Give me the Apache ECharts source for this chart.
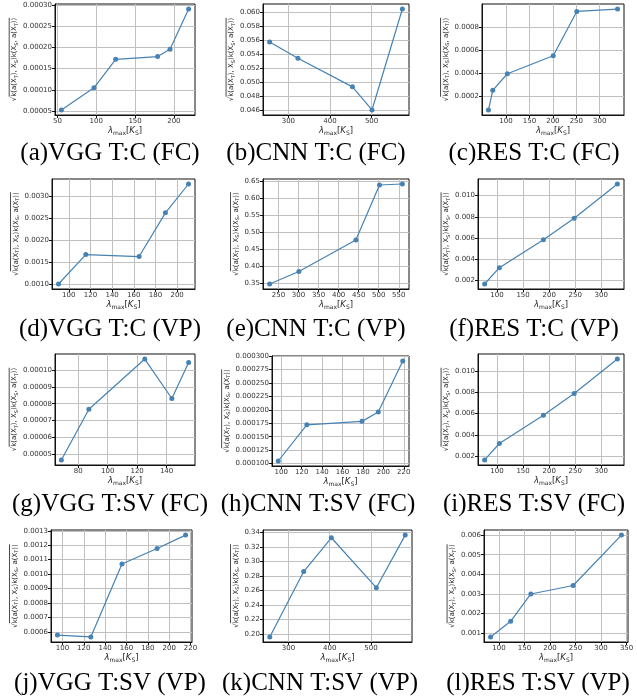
<!DOCTYPE html>
<html><head><meta charset="utf-8">
<script src="https://cdn.jsdelivr.net/npm/echarts@6/dist/echarts.min.js"></script>
<style>html,body{margin:0;padding:0;background:#fff}#c{width:637px;height:700px}</style>
</head><body><div id="c"></div>
<script>
// ---- data ----
const aX = [55, 97, 125, 179, 195, 219];
const aY = [0.0000524, 0.0001048, 0.0001722, 0.0001786, 0.000196, 0.000291];
const aXT = [50, 100, 150, 200];
const aYT = [0.00005, 0.00010, 0.00015, 0.00020, 0.00025, 0.00030];

const bX = [255, 323, 454, 501, 574];
const bY = [0.05576, 0.05343, 0.04938, 0.0461, 0.06043];
const bXT = [300, 400, 500];
const bYT = [0.046, 0.048, 0.050, 0.052, 0.054, 0.056, 0.058, 0.060];

const cX = [62.5, 71.7, 102.8, 200.7, 251, 338];
const cY = [0.0000794, 0.00025, 0.000394, 0.00055, 0.000935, 0.000956];
const cXT = [100, 150, 200, 250, 300];
const cYT = [0.0002, 0.0004, 0.0006, 0.0008, 0.0010];

const dX = [90.5, 115.7, 164.9, 189.2, 210.5];
const dY = [0.001015, 0.001679, 0.001634, 0.002619, 0.003269];
const dXT = [100, 120, 140, 160, 180, 200];
const dYT = [0.0010, 0.0015, 0.0020, 0.0025, 0.0030];

const eX = [228, 301, 443, 502, 559];
const eY = [0.347, 0.384, 0.477, 0.640, 0.643];
const eXT = [250, 300, 350, 400, 450, 500, 550];
const eYT = [0.35, 0.40, 0.45, 0.50, 0.55, 0.60, 0.65];

const fX = [76.3, 104.5, 189, 248, 330.8];
const fY = [0.00165, 0.00319, 0.00584, 0.00787, 0.0111];
const fXT = [100, 150, 200, 250, 300];
const fYT = [0.002, 0.004, 0.006, 0.008, 0.010];

const gX = [68.5, 87.2, 125.2, 143.6, 155];
const gY = [0.0000466, 0.0000767, 0.0001065, 0.0000831, 0.0001045];
const gXT = [80, 100, 120, 140];
const gYT = [0.00005, 0.00006, 0.00007, 0.00008, 0.00009, 0.00010];

const hX = [97, 125, 179, 195, 219];
const hY = [0.0001048, 0.0001722, 0.0001786, 0.000196, 0.000291];
const hXT = [100, 120, 140, 160, 180, 200, 220];
const hYT = [0.000100, 0.000125, 0.000150, 0.000175, 0.000200, 0.000225, 0.000250, 0.000275, 0.000300];

const iX = [76.3, 104.5, 189, 248, 330.8];
const iY = [0.00165, 0.00319, 0.00584, 0.00787, 0.0111];
const iXT = [100, 150, 200, 250, 300];
const iYT = [0.002, 0.004, 0.006, 0.008, 0.010];

const jX = [95.3, 126.6, 155.8, 188.7, 215.4];
const jY = [0.000578, 0.000565, 0.00107, 0.001177, 0.00127];
const jXT = [100, 120, 140, 160, 180, 200, 220];
const jYT = [0.0006, 0.0007, 0.0008, 0.0009, 0.0010, 0.0011, 0.0012, 0.0013];

const kX = [254.8, 337, 404, 513, 583];
const kY = [0.1958, 0.286, 0.3326, 0.2637, 0.3363];
const kXT = [300, 400, 500];
const kYT = [0.20, 0.22, 0.24, 0.26, 0.28, 0.30, 0.32, 0.34];

const lX = [83.6, 123, 162.5, 245.4, 340];
const lY = [0.000812, 0.001606, 0.003, 0.00343, 0.006];
const lXT = [100, 150, 200, 250, 300, 350];
const lYT = [0.001, 0.002, 0.003, 0.004, 0.005, 0.006];

const captions = ['(a)VGG T:C (FC)', '(b)CNN T:C (FC)', '(c)RES T:C (FC)',
  '(d)VGG T:C (VP)', '(e)CNN T:C (VP)', '(f)RES T:C (VP)',
  '(g)VGG T:SV (FC)', '(h)CNN T:SV (FC)', '(i)RES T:SV (FC)',
  '(j)VGG T:SV (VP)', '(k)CNN T:SV (VP)', '(l)RES T:SV (VP)'];

// ---- layout ----
const panels = [
  {x: aX, y: aY, xt: aXT, yt: aYT, yd: 5, box: [55, 4, 140, 111], ng: 32},
  {x: bX, y: bY, xt: bXT, yt: bYT, yd: 3, box: [263, 4, 146, 111], ng: 24},
  {x: cX, y: cY, xt: cXT, yt: cYT, yd: 4, box: [482, 4, 142, 111], ng: 28},
  {x: dX, y: dY, xt: dXT, yt: dYT, yd: 4, box: [52, 179, 143, 110], ng: 28},
  {x: eX, y: eY, xt: eXT, yt: eYT, yd: 2, box: [263, 179, 146, 110], ng: 22},
  {x: fX, y: fY, xt: fXT, yt: fYT, yd: 3, box: [478, 179, 146, 110], ng: 24},
  {x: gX, y: gY, xt: gXT, yt: gYT, yd: 5, box: [55, 354, 140, 111], ng: 32},
  {x: hX, y: hY, xt: hXT, yt: hYT, yd: 6, box: [272, 356, 137, 110], ng: 34},
  {x: iX, y: iY, xt: iXT, yt: iYT, yd: 3, box: [478, 354, 146, 111], ng: 24},
  {x: jX, y: jY, xt: jXT, yt: jYT, yd: 4, box: [51, 530, 141, 112], ng: 28},
  {x: kX, y: kY, xt: kXT, yt: kYT, yd: 2, box: [263, 530, 149, 112], ng: 22},
  {x: lX, y: lY, xt: lXT, yt: lYT, yd: 3, box: [484, 530, 144, 112], ng: 24}
];
const capPos = [[110, 141], [316, 141], [534, 141], [110, 317], [316, 317], [534, 317],
  [110, 492], [318, 492], [534, 492], [110, 671], [320, 671], [538, 671]];

function pad(a) {
  const mn = Math.min(...a), mx = Math.max(...a), r = mx - mn;
  return [mn - 0.05 * r, mx + 0.05 * r];
}
const FONT = 'DejaVu Sans';
// y-axis name: sqrt with overbar
const nameParts = [['n', 'k(a(X'], ['s', 'T'], ['n', '), X'], ['s', 'S'], ['n', ')k(X'], ['s', 'S'], ['n', ', a(X'], ['s', 'T'], ['n', '))']];
const NS = 7, SS = 5;
const mctx = document.createElement('canvas').getContext('2d');
function tw(str, size) { mctx.font = size + 'px "' + FONT + '"'; return mctx.measureText(str).width; }
const barW = nameParts.reduce((s, [t, str]) => s + tw(str, t === 'n' ? NS : SS), 0);
const rootW = tw('√', NS);
const yName = '{sp|}{bar|}\n{n|√}' + nameParts.map(([t, s]) => '{' + t + '|' + s + '}').join('');
const xName = '{i|λ}{s|max}{n|[}{i|K}{s|S}{n|]}';
const yRich = {
  sp: {width: rootW, height: 1, lineHeight: 2},
  bar: {width: barW, height: 0.8, backgroundColor: '#222', lineHeight: 2},
  n: {fontSize: NS, fontFamily: FONT, color: '#222', lineHeight: 9},
  s: {fontSize: SS, fontFamily: FONT, color: '#222', lineHeight: 9, verticalAlign: 'bottom', padding: [4, 0, 0, 0]}
};
const xRich = {
  n: {fontSize: 8.5, fontFamily: FONT, color: '#222', lineHeight: 12},
  i: {fontSize: 8.5, fontFamily: FONT, color: '#222', fontStyle: 'italic', lineHeight: 12},
  s: {fontSize: 6, fontFamily: FONT, color: '#222', lineHeight: 12, verticalAlign: 'bottom', padding: [5, 0, 0, 0]}
};

const grid = [], xAxis = [], yAxis = [], series = [], graphic = [];
panels.forEach((p, k) => {
  const [l, t, w, h] = p.box;
  grid.push({left: l, top: t, width: w, height: h, show: true, borderColor: '#111', borderWidth: 1, containLabel: false});
  const [x0, x1] = pad(p.x), [y0, y1] = pad(p.y);
  xAxis.push({
    type: 'value', gridIndex: k, min: x0, max: x1,
    name: xName, nameLocation: 'middle', nameGap: 9, nameTextStyle: {rich: xRich},
    axisLine: {show: true, onZero: false, lineStyle: {color: '#111', width: 1}},
    axisTick: {show: true, length: 3, customValues: p.xt, lineStyle: {color: '#111'}},
    axisLabel: {customValues: p.xt, fontSize: 7, fontFamily: FONT, color: '#333', margin: 3,
      formatter: v => String(Math.round(v))},
    splitLine: {show: true, lineStyle: {color: '#c0c0c0', width: 1}}
  });
  yAxis.push({
    type: 'value', gridIndex: k, min: y0, max: y1,
    name: yName, nameLocation: 'middle', nameRotate: 90, nameGap: p.ng,
    nameTextStyle: {rich: yRich},
    axisLine: {show: true, onZero: false, lineStyle: {color: '#111', width: 1}},
    axisTick: {show: true, length: 3, customValues: p.yt, lineStyle: {color: '#111'}},
    axisLabel: {customValues: p.yt, fontSize: 7, fontFamily: FONT, color: '#333', margin: 3,
      formatter: v => v.toFixed(p.yd)},
    splitLine: {show: true, lineStyle: {color: '#c0c0c0', width: 1}}
  });
  series.push({
    type: 'line', xAxisIndex: k, yAxisIndex: k,
    data: p.x.map((v, i) => [v, p.y[i]]),
    symbol: 'circle', symbolSize: 5, showSymbol: true,
    itemStyle: {color: '#4682b4'}, lineStyle: {color: '#4682b4', width: 1.2},
    animation: false
  });
  graphic.push({
    type: 'text', x: capPos[k][0], y: capPos[k][1],
    style: {text: captions[k], font: '25px "Liberation Serif"', fill: '#000',
      align: 'center', verticalAlign: 'top', textAlign: 'center', textVerticalAlign: 'top'}
  });
});

const chart = echarts.init(document.getElementById('c'), null, {renderer: 'canvas'});
chart.setOption({animation: false, backgroundColor: '#fff', grid, xAxis, yAxis, series, graphic});
</script>
</body></html>
